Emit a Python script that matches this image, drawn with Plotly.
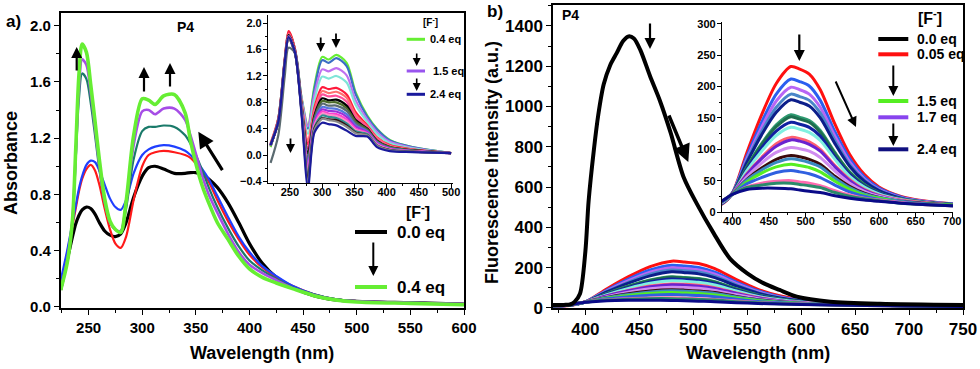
import plotly.graph_objects as go

W, H = 980, 369
FONT = "Liberation Sans, Arial, sans-serif"

# ---------------- Panel a) main : UV-vis absorbance, 0.0 -> 0.4 eq F-
wl_a = [224, 230, 235, 238, 241, 244, 248, 252, 256, 260, 265, 270, 275, 280, 285, 292, 300, 306, 312, 320,
        330, 340, 345, 350, 356, 362, 370, 380, 390, 400, 412, 425, 440, 460, 480, 500, 550, 600]
abs_black = [0.12, 0.33, 0.50, 0.59, 0.65, 0.69, 0.71, 0.70, 0.66, 0.60,
             0.54, 0.51, 0.50, 0.52, 0.60, 0.78, 0.93, 0.99, 1.00, 0.98,
             0.95, 0.95, 0.955, 0.955, 0.94, 0.91, 0.85, 0.74, 0.60, 0.45,
             0.31, 0.21, 0.14, 0.08, 0.05, 0.04, 0.03, 0.02]
abs_red = [0.15, 0.38, 0.58, 0.70, 0.82, 0.91, 0.98, 1.01, 0.97, 0.87,
           0.70, 0.55, 0.45, 0.42, 0.50, 0.76, 1.00, 1.08, 1.10, 1.11,
           1.10, 1.08, 1.06, 1.02, 0.96, 0.89, 0.76, 0.61, 0.48, 0.37,
           0.28, 0.21, 0.15, 0.09, 0.055, 0.04, 0.03, 0.02]
abs_blue = [0.19, 0.40, 0.60, 0.72, 0.84, 0.93, 1.01, 1.04, 1.03, 0.97,
            0.87, 0.77, 0.71, 0.69, 0.76, 0.95, 1.08, 1.12, 1.14, 1.15,
            1.14, 1.11, 1.08, 1.04, 0.98, 0.91, 0.79, 0.64, 0.50, 0.39,
            0.29, 0.22, 0.15, 0.09, 0.055, 0.04, 0.03, 0.02]
abs_teal = [0.13, 0.33, 0.62, 1.05, 1.48, 1.66, 1.62, 1.45, 1.22, 0.98,
            0.74, 0.60, 0.55, 0.54, 0.70, 1.05, 1.25, 1.28, 1.28, 1.29,
            1.28, 1.22, 1.16, 1.08, 0.97, 0.85, 0.71, 0.56, 0.43, 0.33,
            0.26, 0.20, 0.14, 0.09, 0.055, 0.04, 0.03, 0.02]
abs_purple = [0.13, 0.33, 0.63, 1.08, 1.55, 1.76, 1.72, 1.52, 1.27, 1.01,
              0.75, 0.60, 0.55, 0.54, 0.74, 1.15, 1.39, 1.40, 1.37, 1.41,
              1.41, 1.33, 1.22, 1.09, 0.93, 0.80, 0.67, 0.52, 0.39, 0.30,
              0.24, 0.19, 0.135, 0.085, 0.05, 0.04, 0.03, 0.02]
abs_green = [0.12, 0.31, 0.62, 1.12, 1.65, 1.87, 1.81, 1.58, 1.32, 1.05,
             0.77, 0.61, 0.55, 0.53, 0.75, 1.22, 1.48, 1.47, 1.44, 1.50,
             1.51, 1.38, 1.18, 1.02, 0.86, 0.74, 0.60, 0.48, 0.36, 0.27,
             0.21, 0.17, 0.13, 0.08, 0.05, 0.035, 0.025, 0.015]
main_a_series = [("0.0 eq", abs_black, "#000000", 3.2), ("red", abs_red, "#ff1a1a", 2.2),
                 ("blue", abs_blue, "#1f3fff", 2.2), ("teal", abs_teal, "#1a7a6a", 2.2),
                 ("purple", abs_purple, "#a64de6", 2.6), ("0.4 eq", abs_green, "#66ee33", 3.6)]

# ---------------- Panel a) inset : 0.4 -> 2.4 eq F-
wl_ai = [220, 232, 242, 248, 258, 268, 278, 288, 300, 310, 322, 338, 352, 370, 385, 405, 440, 500]
inset_a = [
    ("#66ee33", [0.12, 0.55, 1.45, 1.87, 1.60, 0.88, 0.45, 1.05, 1.49, 1.45, 1.52, 1.40, 0.95, 0.60, 0.40, 0.23, 0.12, 0.03]),
    ("#3a6fc4", [0.15, 0.55, 1.45, 1.86, 1.60, 0.86, 0.40, 1.00, 1.44, 1.40, 1.47, 1.35, 0.92, 0.58, 0.39, 0.22, 0.12, 0.03]),
    ("#c070f0", [0.14, 0.54, 1.44, 1.85, 1.59, 0.86, 0.44, 0.92, 1.30, 1.27, 1.32, 1.21, 0.83, 0.54, 0.35, 0.20, 0.11, 0.03]),
    ("#7fe5d8", [0.16, 0.54, 1.44, 1.84, 1.58, 0.84, 0.32, 0.83, 1.19, 1.16, 1.20, 1.10, 0.76, 0.50, 0.32, 0.18, 0.10, 0.03]),
    ("#ff1a3c", [0.18, 0.56, 1.46, 1.88, 1.60, 0.80, 0.16, 0.72, 1.03, 1.00, 1.02, 0.92, 0.65, 0.45, 0.27, 0.15, 0.085, 0.03]),
    ("#ff6f6f", [0.16, 0.54, 1.44, 1.84, 1.58, 0.80, 0.22, 0.68, 0.97, 0.94, 0.96, 0.87, 0.61, 0.43, 0.26, 0.14, 0.08, 0.03]),
    ("#ff4f9a", [0.15, 0.53, 1.43, 1.83, 1.57, 0.78, 0.10, 0.64, 0.92, 0.89, 0.90, 0.81, 0.57, 0.42, 0.24, 0.13, 0.077, 0.03]),
    ("#000000", [0.14, 0.52, 1.42, 1.82, 1.57, 0.76, 0.02, 0.60, 0.86, 0.83, 0.84, 0.75, 0.53, 0.40, 0.22, 0.12, 0.073, 0.03]),
    ("#4b6b2a", [0.15, 0.52, 1.42, 1.81, 1.56, 0.75, -0.05, 0.57, 0.82, 0.80, 0.80, 0.71, 0.51, 0.39, 0.21, 0.12, 0.07, 0.03]),
    ("#5a6a70", [-0.12, 0.30, 1.20, 1.63, 1.55, 0.74, -0.08, 0.54, 0.78, 0.75, 0.75, 0.67, 0.48, 0.37, 0.20, 0.11, 0.066, 0.03]),
    ("#5577dd", [0.16, 0.52, 1.42, 1.80, 1.56, 0.72, -0.12, 0.51, 0.73, 0.71, 0.70, 0.62, 0.45, 0.36, 0.19, 0.10, 0.063, 0.03]),
    ("#9b30d9", [0.15, 0.51, 1.41, 1.80, 1.55, 0.71, -0.18, 0.49, 0.69, 0.67, 0.66, 0.58, 0.43, 0.35, 0.18, 0.095, 0.06, 0.03]),
    ("#ff3fd0", [0.16, 0.51, 1.41, 1.79, 1.55, 0.70, -0.22, 0.46, 0.66, 0.63, 0.62, 0.54, 0.40, 0.33, 0.17, 0.09, 0.058, 0.03]),
    ("#ff8fc8", [0.15, 0.50, 1.40, 1.79, 1.55, 0.69, -0.26, 0.44, 0.63, 0.61, 0.59, 0.51, 0.38, 0.32, 0.16, 0.084, 0.055, 0.03]),
    ("#2f8f8f", [0.16, 0.50, 1.40, 1.78, 1.54, 0.68, -0.32, 0.42, 0.60, 0.58, 0.56, 0.48, 0.36, 0.32, 0.15, 0.079, 0.053, 0.03]),
    ("#301010", [0.15, 0.50, 1.40, 1.78, 1.54, 0.66, -0.36, 0.40, 0.56, 0.54, 0.53, 0.45, 0.34, 0.30, 0.14, 0.073, 0.05, 0.03]),
    ("#8a8a8a", [0.14, 0.50, 1.40, 1.77, 1.54, 0.65, -0.42, 0.38, 0.55, 0.53, 0.51, 0.43, 0.33, 0.30, 0.14, 0.07, 0.049, 0.03]),
    ("#1a1a9c", [0.15, 0.50, 1.40, 1.79, 1.55, 0.62, -0.50, 0.34, 0.49, 0.47, 0.45, 0.37, 0.29, 0.28, 0.12, 0.06, 0.045, 0.03]),
]

# ---------------- Panel b) fluorescence
wl_b0 = [370, 380, 386, 390, 395, 400, 403, 408, 412, 417, 423, 429, 435, 440, 445, 451, 460, 469, 479, 491,
         503, 519, 534, 550, 565, 580, 596, 627, 673, 750]
fl_black = [14, 15, 17, 30, 70, 280, 530, 790, 960, 1110, 1205, 1265, 1325, 1348, 1338, 1280, 1150, 1030, 870, 650,
            520, 370, 245, 172, 123, 89, 56, 31, 20, 14]
wl_b = [370, 385, 400, 420, 440, 460, 480, 492, 505, 520, 540, 560, 580, 600, 630, 660, 700, 750]
fl_series = [
    ("#ff1010", [8, 12, 30, 95, 155, 205, 232, 228, 220, 195, 140, 92, 60, 40, 25, 18, 13, 8]),
    ("#2a5ef0", [8, 13, 30, 89, 143, 188, 212, 208, 201, 178, 128, 85, 56, 38, 24, 17, 13, 8]),
    ("#b866f5", [8, 13, 30, 85, 135, 177, 199, 195, 188, 167, 121, 80, 53, 36, 23, 17, 12, 8]),
    ("#4a86c8", [8, 13, 30, 82, 128, 167, 188, 184, 178, 158, 114, 76, 51, 35, 22, 16, 12, 8]),
    ("#0c1e8a", [9, 13, 29, 79, 123, 159, 179, 175, 169, 150, 109, 73, 49, 34, 22, 16, 12, 8]),
    ("#2e9a70", [9, 14, 29, 72, 109, 139, 155, 151, 146, 130, 95, 64, 44, 31, 21, 16, 12, 8]),
    ("#1e6e4e", [9, 14, 29, 71, 107, 136, 152, 148, 143, 127, 93, 63, 43, 31, 20, 15, 12, 8]),
    ("#1020a0", [9, 14, 29, 68, 102, 129, 143, 140, 135, 121, 88, 60, 41, 30, 20, 15, 12, 8]),
    ("#80f0e0", [9, 14, 29, 66, 97, 122, 135, 132, 127, 114, 84, 57, 40, 29, 20, 15, 11, 7]),
    ("#ff6070", [9, 15, 29, 61, 87, 109, 119, 117, 112, 100, 74, 52, 36, 27, 19, 15, 11, 7]),
    ("#6a22d0", [9, 15, 29, 60, 85, 105, 115, 113, 108, 97, 72, 50, 35, 26, 18, 14, 11, 7]),
    ("#d08cf0", [9, 15, 29, 56, 78, 95, 103, 101, 97, 87, 65, 46, 33, 25, 18, 14, 11, 7]),
    ("#3a0a0a", [9, 16, 29, 52, 70, 84, 90, 88, 84, 76, 57, 41, 30, 23, 17, 14, 11, 7]),
    ("#3a8ac0", [10, 16, 28, 51, 67, 79, 85, 83, 79, 72, 54, 39, 29, 23, 17, 13, 11, 7]),
    ("#55ee22", [10, 16, 28, 48, 62, 72, 76, 74, 71, 64, 49, 36, 27, 22, 16, 13, 11, 7]),
    ("#3060e0", [10, 16, 28, 45, 55, 63, 66, 64, 61, 55, 43, 32, 25, 20, 16, 13, 10, 7]),
    ("#ff6ab0", [10, 17, 28, 40, 46, 49, 50, 48, 46, 42, 34, 27, 22, 19, 15, 12, 10, 7]),
    ("#2a8a6a", [10, 17, 28, 39, 43, 46, 46, 44, 42, 39, 31, 25, 21, 18, 14, 12, 10, 7]),
    ("#0a0a88", [10, 17, 28, 36, 38, 38, 37, 35, 33, 31, 26, 22, 19, 17, 14, 12, 10, 7]),
]

fig = go.Figure()
SPL = dict(shape="spline", smoothing=0.8)

for name, ys, col, w in main_a_series:
    fig.add_trace(go.Scatter(x=wl_a, y=ys, mode="lines", line=dict(color=col, width=w, **SPL),
                             xaxis="x", yaxis="y", showlegend=False, hoverinfo="skip"))
for col, ys in inset_a:
    fig.add_trace(go.Scatter(x=wl_ai, y=ys, mode="lines", line=dict(color=col, width=2.2, **SPL),
                             xaxis="x2", yaxis="y2", showlegend=False, hoverinfo="skip"))
for col, ys in fl_series:
    fig.add_trace(go.Scatter(x=wl_b, y=ys, mode="lines", line=dict(color=col, width=3, **SPL),
                             xaxis="x3", yaxis="y3", showlegend=False, hoverinfo="skip"))
fig.add_trace(go.Scatter(x=wl_b0, y=fl_black, mode="lines", line=dict(color="black", width=4, **SPL),
                         xaxis="x3", yaxis="y3", showlegend=False, hoverinfo="skip"))
for col, ys in fl_series:
    fig.add_trace(go.Scatter(x=wl_b, y=ys, mode="lines", line=dict(color=col, width=3, **SPL),
                             xaxis="x4", yaxis="y4", showlegend=False, hoverinfo="skip"))


def axis(domain, rng, dtick, mdtick, anchor, fs, mirror=True, fmt=None, lw=1.5, standoff=None, tl=5):
    d = dict(domain=domain, range=rng, dtick=dtick, tick0=0, showline=True, linecolor="black",
             linewidth=lw, mirror=mirror, ticks="outside", ticklen=tl, tickwidth=1.3, tickcolor="black",
             minor=dict(ticks="outside", ticklen=max(tl - 2, 2), dtick=mdtick, tickwidth=1, tickcolor="black"),
             showgrid=False, zeroline=False, anchor=anchor,
             tickfont=dict(family=FONT, size=fs, color="black", weight="bold"))
    if fmt:
        d["tickformat"] = fmt
    if standoff is not None:
        d["ticklabelstandoff"] = standoff
    return d


def px(x, y):
    return x / W, 1 - y / H


layout = dict(
    width=W, height=H, margin=dict(l=0, r=0, t=0, b=0),
    paper_bgcolor="white", plot_bgcolor="white", template="none",
    xaxis=axis([60.7 / W, 464 / W], [224, 600], 50, 25, "y", 15),
    yaxis=axis([1 - 308.3 / H, 1 - 13 / H], [-0.01, 2.09], 0.4, 0.2, "x", 15, fmt=".1f"),
    xaxis2=axis([268 / W, 453 / W], [216, 503], 50, 25, "y2", 11, mirror=False, lw=1.2, standoff=-5, tl=4),
    yaxis2=axis([1 - 183 / H, 1 - 15 / H], [-0.425, 2.126], 0.4, 0.2, "x2", 11, mirror=False, fmt=".1f",
                lw=1.2, standoff=-1, tl=4),
    xaxis3=axis([553 / W, 963 / W], [370, 750], 50, 25, "y3", 17),
    yaxis3=axis([1 - 308.3 / H, 1 - 5 / H], [-2, 1504], 200, 100, "x3", 17),
    xaxis4=axis([722 / W, 953 / W], [386, 701], 50, 25, "y4", 11, mirror=False, lw=1.2, standoff=-5, tl=4),
    yaxis4=axis([1 - 212 / H, 1 - 22 / H], [0, 303], 50, 25, "x4", 11, mirror=False, lw=1.2, standoff=-1, tl=4),
)

ann = []
shapes = []


def text(x, y, s, size, xanchor="center", angle=0):
    X, Y = px(x, y)
    ann.append(dict(x=X, y=Y, xref="paper", yref="paper", text=s, showarrow=False, xanchor=xanchor,
                    yanchor="middle", textangle=angle,
                    font=dict(family=FONT, size=size, color="black", weight="bold")))


def arrow(tx, ty, hx, hy, w=2.0, size=1.0):
    X, Y = px(hx, hy)
    ann.append(dict(x=X, y=Y, xref="paper", yref="paper", ax=tx - hx, ay=ty - hy, axref="pixel",
                    ayref="pixel", text="", showarrow=True, arrowhead=2, arrowsize=size,
                    arrowwidth=w, arrowcolor="black"))


def seg(x0, x1, y, col, w):
    X0, Y = px(x0, y)
    X1, _ = px(x1, y)
    shapes.append(dict(type="line", xref="paper", yref="paper", x0=X0, x1=X1, y0=Y, y1=Y,
                       line=dict(color=col, width=w)))


# axis titles
text(11, 163, "Absorbance", 18, angle=-90)
text(262, 353, "Wavelength (nm)", 18)
text(492, 163, "Fluorescence Intensity (a.u.)", 18, angle=-90)
text(758, 353, "Wavelength (nm)", 18)

# panel labels
text(13, 22, "a)", 17)
text(185, 27, "P4", 14)
text(495, 12, "b)", 17)
text(570, 15, "P4", 14)

# panel a main arrows
arrow(76.7, 72, 76.7, 47, 2.2)
arrow(144, 93, 144, 67, 2.2)
arrow(170, 88, 170, 63, 2.2)
arrow(223.3, 171.7, 198.3, 131.7, 3.2)
# panel a main legend
text(418, 211, "[F<sup>-</sup>]", 16)
seg(355, 387, 232, "black", 4)
text(395, 232, "0.0 eq", 17, xanchor="left")
arrow(373.3, 241, 373.3, 276, 2)
seg(355, 387, 287, "#66ee33", 4)
text(395, 287, "0.4 eq", 17, xanchor="left")

# panel a inset arrows + legend
arrow(320.7, 36, 320.7, 52, 1.8)
arrow(336, 32, 336, 48, 1.8)
arrow(290.5, 137, 290.5, 153, 1.8)
text(430, 22, "[F<sup>-</sup>]", 10)
seg(406.7, 425, 39.3, "#66ee33", 3)
text(428, 39.3, "0.4 eq", 11, xanchor="left")
arrow(416.7, 52, 416.7, 66, 1.6)
seg(406.7, 425, 71, "#9955ee", 3)
text(431, 71, "1.5 eq", 11, xanchor="left")
arrow(416.7, 77, 416.7, 91, 1.6)
seg(406.7, 425, 94.3, "#1a1a9c", 3)
text(428, 94.3, "2.4 eq", 11, xanchor="left")

# panel b main arrows
arrow(650, 22, 650, 49, 2.2)
arrow(668.3, 114, 688.3, 162, 3.5)
# panel b inset arrows + legend
arrow(799.3, 33, 799.3, 61, 2.2)
arrow(835, 80, 856, 127, 2)
text(930, 17, "[F<sup>-</sup>]", 16)
seg(878.3, 908.3, 39, "black", 4)
text(915, 39, "0.0 eq", 14, xanchor="left")
seg(878.3, 908.3, 54.3, "#ff1010", 4)
text(915, 54.3, "0.05 eq", 14, xanchor="left")
arrow(893.3, 64, 893.3, 96, 2)
seg(878.3, 908.3, 101, "#55ee22", 4)
text(915, 101, "1.5 eq", 14, xanchor="left")
seg(878.3, 908.3, 117.3, "#8844ee", 4)
text(915, 117.3, "1.7 eq", 14, xanchor="left")
arrow(893.3, 122, 893.3, 146, 2)
seg(878.3, 908.3, 149.3, "#101080", 4)
text(915, 149.3, "2.4 eq", 14, xanchor="left")

layout["annotations"] = ann
layout["shapes"] = shapes
fig.update_layout(**layout)
fig.write_html("out.html", config={"displayModeBar": False},
               post_script="document.body.style.margin='0px';document.body.style.overflow='hidden';")
